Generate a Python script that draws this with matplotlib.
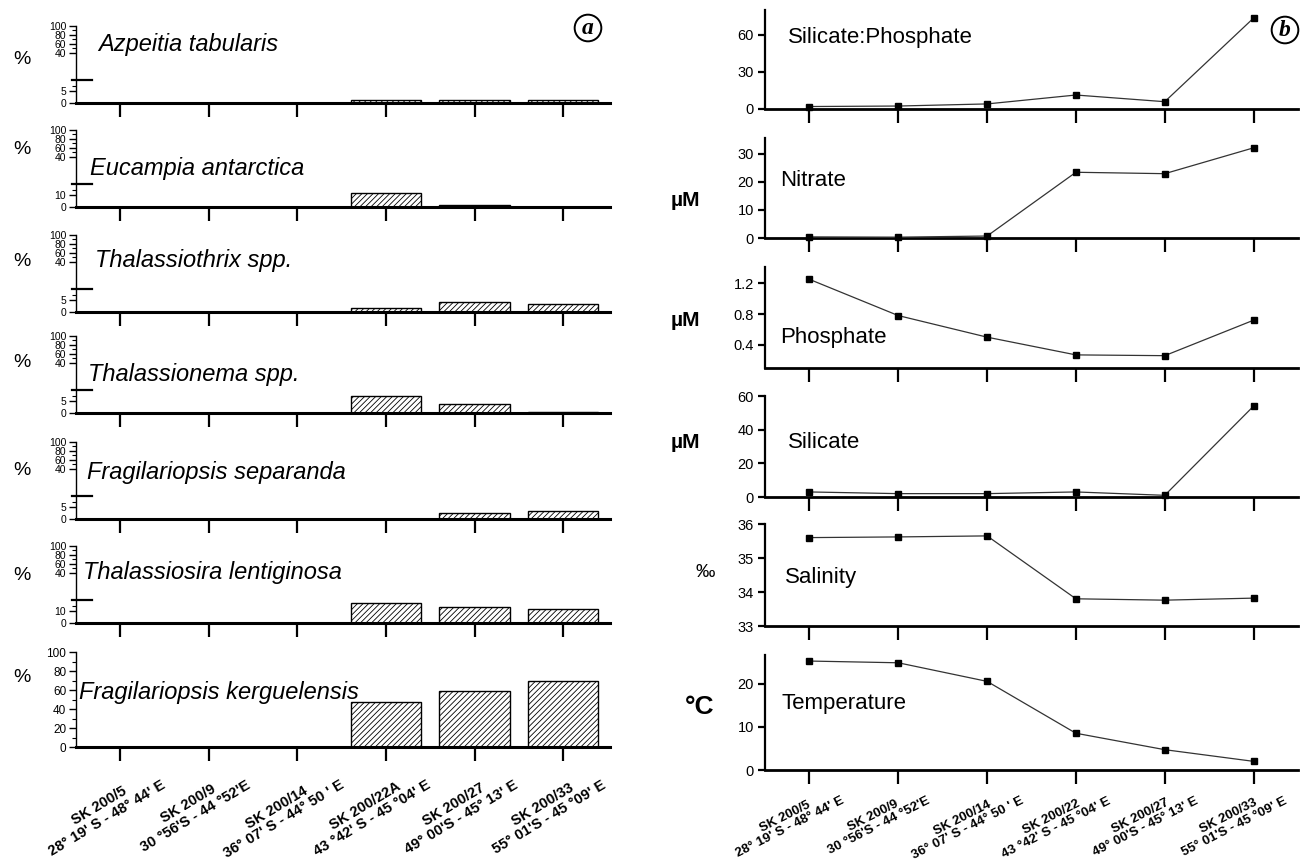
import matplotlib
matplotlib.use('Agg')
import matplotlib.pyplot as plt
import numpy as np
from matplotlib.transforms import ScaledTranslation

# ---------------- data ----------------
stations_left = [
    "SK 200/5\n28° 19' S - 48° 44' E",
    "SK 200/9\n30 °56'S - 44 °52'E",
    "SK 200/14\n36° 07' S - 44° 50 ' E",
    "SK 200/22A\n43 °42' S - 45 °04' E",
    "SK 200/27\n49° 00'S - 45° 13' E",
    "SK 200/33\n55° 01'S - 45 °09' E",
]
stations_right = [
    "SK 200/5\n28° 19' S - 48° 44' E",
    "SK 200/9\n30 °56'S - 44 °52'E",
    "SK 200/14\n36° 07' S - 44° 50 ' E",
    "SK 200/22\n43 °42' S - 45 °04' E",
    "SK 200/27\n49° 00'S - 45° 13' E",
    "SK 200/33\n55° 01'S - 45 °09' E",
]

species = ["Azpeitia tabularis", "Eucampia antarctica", "Thalassiothrix spp.",
           "Thalassionema spp.", "Fragilariopsis separanda",
           "Thalassiosira lentiginosa", "Fragilariopsis kerguelensis"]
azpeitia = [0, 0, 0, 1.5, 1.5, 1.5]
eucampia = [0, 0, 0, 12, 1.5, 0.3]
thalassiothrix = [0, 0, 0, 1.7, 4.3, 3.5]
thalassionema = [0, 0, 0, 7.4, 3.9, 0.4]
frag_separanda = [0, 0, 0, 0, 2.6, 3.5]
thalassiosira = [0, 0, 0, 17, 14, 12]
frag_kerguelensis = [0, 0, 0, 47, 59, 70]
lower_tick = [5, 10, 5, 5, 5, 10, None]   # lower-segment tick of broken axes

si_p = [2, 2.4, 4.1, 11.3, 5.9, 73.5]
nitrate = [0.4, 0.3, 0.7, 23.4, 22.9, 32.1]
phosphate = [1.25, 0.78, 0.5, 0.27, 0.26, 0.72]
silicate = [3, 2, 2, 3, 1, 54]
salinity = [35.6, 35.62, 35.65, 33.8, 33.76, 33.82]
temperature = [25.2, 24.8, 20.5, 8.5, 4.7, 2.0]

# ---------------- figure ----------------
W, H = 1316, 863
fig = plt.figure(figsize=(W / 100, H / 100), dpi=100)
plt.rcParams['hatch.linewidth'] = 0.6
TICKFONT = ['Liberation Sans Narrow', 'Liberation Sans', 'DejaVu Sans']
SANS = ['Liberation Sans', 'DejaVu Sans']


def add_ax(l, r, top, bottom):
    return fig.add_axes([l / W, 1 - bottom / H, (r - l) / W, (bottom - top) / H])


x = np.arange(6)

# ---------------- left (a) ----------------
left_vals = [azpeitia, eucampia, thalassiothrix, thalassionema,
             frag_separanda, thalassiosira, frag_kerguelensis]
left_base = [103, 207, 312, 413, 519, 623, 747]
left_top = [26, 130, 235, 336, 442, 546, 652]
species_pos = [(98, 45), (90, 168), (95, 260), (88, 374), (87, 472), (83, 572), (79, 692)]
pct_pos = [60, 150, 262, 362, 470, 575, 677]

for i, vals in enumerate(left_vals):
    ax = add_ax(76, 610, left_top[i], left_base[i])
    lo = lower_tick[i]
    if lo is not None:
        brk = 2 * lo
        xs = [-100, 0, brk, 40, 100, 200]
        ys = [-1.0, 0, 0.3, 0.65, 1.0, 1.583]
        ax.set_yscale('function', functions=(lambda v, xs=xs, ys=ys: np.interp(v, xs, ys),
                                             lambda f, xs=xs, ys=ys: np.interp(f, ys, xs)))
        yt = [0, lo, 40, 60, 80, 100]
        ax.set_yticks([lo * 1.5, 50, 70, 90], minor=True)
    else:
        yt = [0, 20, 40, 60, 80, 100]
        ax.set_yticks([10, 30, 50, 70, 90], minor=True)
    ax.bar(x, vals, width=0.8, color='white', edgecolor='black', linewidth=1.0,
           hatch='//////', zorder=2)
    ax.set_xlim(-0.5, 5.53)
    ax.set_ylim(0, 100)
    ax.set_yticks(yt)
    ax.set_yticklabels([str(t) for t in yt], family=TICKFONT,
                       fontsize=7.5 if lo is not None else 8.5)
    ax.set_xticks(x)
    for s in ['top', 'right']:
        ax.spines[s].set_visible(False)
    ax.spines['bottom'].set_linewidth(2.2)
    ax.spines['left'].set_linewidth(1.0)
    ax.tick_params(axis='y', which='major', direction='out', length=5, width=1, pad=2)
    ax.tick_params(axis='y', which='minor', direction='out', length=3, width=0.8)
    ax.tick_params(axis='x', direction='out', length=10, width=1.6)
    if lo is not None:
        fb = 0.3
        ax.plot([-0.008, 0.03], [fb, fb], transform=ax.transAxes, color='black',
                lw=1.6, clip_on=False)
    if i < 6:
        ax.set_xticklabels([])
    else:
        ax.set_xticklabels(stations_left, rotation=31, ha='center', va='top',
                           fontsize=10.5, fontweight='bold', family=SANS,
                           linespacing=1.0)
        for lab in ax.get_xticklabels():
            lab.set_transform(lab.get_transform() +
                              ScaledTranslation(-0.17, 0.0, fig.dpi_scale_trans))
    sx, sy = species_pos[i]
    fig.text(sx / W, 1 - sy / H, species[i], fontsize=17, fontstyle='italic',
             family=SANS, ha='left', va='center')
    fig.text(22 / W, 1 - pct_pos[i] / H, '%', fontsize=14, family=SANS,
             ha='center', va='center')

fig.text(588 / W, 1 - 28 / H, 'a', fontsize=17, fontstyle='italic', fontweight='bold',
         family=['Liberation Serif', 'DejaVu Serif'], ha='center', va='center',
         bbox=dict(boxstyle='circle,pad=0.12', fc='white', ec='black', lw=1.4))

# ---------------- right (b) ----------------
right_vals = [si_p, nitrate, phosphate, silicate, salinity, temperature]
right_base = [109, 238, 368, 497, 626, 770]
right_top = [10, 138, 267, 396, 524, 655]
right_ylim = [(0, 80), (0, 35.6), (0.1, 1.41), (0, 60), (33, 36), (0, 26.6)]
right_ticks = [[0, 30, 60], [0, 10, 20, 30], [0.4, 0.8, 1.2], [0, 20, 40, 60],
               [33, 34, 35, 36], [0, 10, 20]]
right_ticklabels = [['0', '30', '60'], ['0', '10', '20', '30'], ['0.4', '0.8', '1.2'],
                    ['0', '20', '40', '60'], ['33', '34', '35', '36'], ['0', '10', '20']]
right_names = ["Silicate:Phosphate", "Nitrate", "Phosphate", "Silicate",
               "Salinity", "Temperature"]
name_pos = [(788, 37), (780, 180), (780, 338), (788, 442), (785, 577), (781, 703)]
unit_labels = [None, "µM", "µM", "µM", "‰", "°C"]
unit_pos = [None, (685, 200), (685, 320), (685, 442), (705, 572), (700, 707)]
unit_size = [None, 15, 15, 15, 14, 19]

for i, vals in enumerate(right_vals):
    ax = add_ax(765, 1298, right_top[i], right_base[i])
    ax.plot(x, vals, color='#333333', lw=0.9, marker='s', markersize=4.5,
            markerfacecolor='black', markeredgecolor='black', clip_on=False, zorder=3)
    ax.set_xlim(-0.5, 5.5)
    ax.set_ylim(*right_ylim[i])
    ax.set_yticks(right_ticks[i])
    ax.set_yticklabels(right_ticklabels[i], family=TICKFONT, fontsize=10.5)
    ax.set_xticks(x)
    for s in ['top', 'right']:
        ax.spines[s].set_visible(False)
    ax.spines['bottom'].set_linewidth(2.0)
    ax.spines['left'].set_linewidth(1.6)
    ax.tick_params(axis='y', direction='out', length=5, width=1.6, pad=3)
    ax.tick_params(axis='x', direction='out', length=10, width=1.6)
    if i < 5:
        ax.set_xticklabels([])
    else:
        ax.set_xticklabels(stations_right, rotation=27, ha='center', va='top',
                           fontsize=9.5, fontweight='bold', family=SANS,
                           linespacing=0.95)
        for lab in ax.get_xticklabels():
            lab.set_transform(lab.get_transform() +
                              ScaledTranslation(-0.22, 0.04, fig.dpi_scale_trans))
    nx, ny = name_pos[i]
    fig.text(nx / W, 1 - ny / H, right_names[i], fontsize=16, family=SANS,
             ha='left', va='center')
    if unit_labels[i]:
        ux, uy = unit_pos[i]
        fig.text(ux / W, 1 - uy / H, unit_labels[i], fontsize=unit_size[i],
                 fontweight='bold' if unit_labels[i] != '‰' else 'normal',
                 family=SANS, ha='center', va='center')

fig.text(1285 / W, 1 - 30 / H, 'b', fontsize=17, fontstyle='italic', fontweight='bold',
         family=['Liberation Serif', 'DejaVu Serif'], ha='center', va='center',
         bbox=dict(boxstyle='circle,pad=0.12', fc='white', ec='black', lw=1.4))

fig.savefig('out.png', dpi=100, facecolor='white')
